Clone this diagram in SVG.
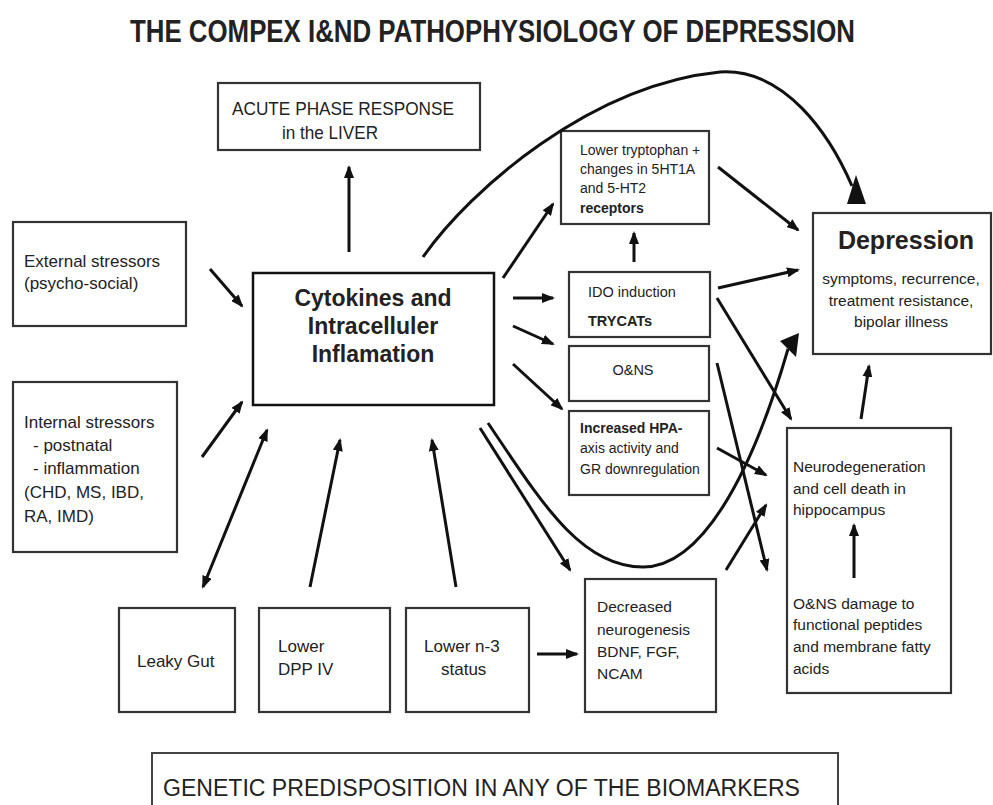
<svg xmlns="http://www.w3.org/2000/svg" width="993" height="805" viewBox="0 0 993 805">
  <defs>
    <marker id="head" markerUnits="userSpaceOnUse" markerWidth="13" markerHeight="10" refX="11" refY="5" orient="auto-start-reverse">
      <path d="M0,0 L13,5 L0,10 z" fill="#111"/>
    </marker>
    <style>
      .box { fill: #fff; stroke: #333; stroke-width: 2.2; }
      .t { font-family: "Liberation Sans", Arial, sans-serif; fill: #222; }
      .b { font-weight: bold; }
      .arrow { fill: none; stroke: #111; stroke-width: 3; marker-end: url(#head); }
      .curve { fill: none; stroke: #111; stroke-width: 3; }
    </style>
  </defs>
  <rect width="993" height="805" fill="#fff"/>

  <text class="t b" x="130" y="42" font-size="31" textLength="725" lengthAdjust="spacingAndGlyphs" fill="#111">THE COMPEX I&amp;ND PATHOPHYSIOLOGY OF DEPRESSION</text>

  <g id="acute">
    <rect class="box" x="218" y="83" width="262" height="67"/>
    <text class="t" x="232" y="115" font-size="19" textLength="222" lengthAdjust="spacingAndGlyphs">ACUTE PHASE RESPONSE</text>
    <text class="t" x="282" y="139" font-size="19" textLength="96" lengthAdjust="spacingAndGlyphs">in the LIVER</text>
  </g>

  <g id="external">
    <rect class="box" x="13" y="222" width="173" height="104"/>
    <text class="t" x="24" y="267" font-size="17">External stressors</text>
    <text class="t" x="24" y="289" font-size="17">(psycho-social)</text>
  </g>

  <g id="internal">
    <rect class="box" x="13" y="382" width="164" height="170"/>
    <text class="t" x="24" y="428" font-size="17">Internal stressors</text>
    <text class="t" x="33" y="451" font-size="17">- postnatal</text>
    <text class="t" x="33" y="474" font-size="17">- inflammation</text>
    <text class="t" x="24" y="498" font-size="17">(CHD, MS, IBD,</text>
    <text class="t" x="24" y="522" font-size="17">RA, IMD)</text>
  </g>

  <g id="cytokines">
    <rect x="253" y="273" width="241" height="132" fill="#fff" stroke="#111" stroke-width="2.5"/>
    <text class="t b" x="373" y="306" font-size="23" text-anchor="middle" fill="#111">Cytokines and</text>
    <text class="t b" x="373" y="334" font-size="23" text-anchor="middle" fill="#111">Intracelluler</text>
    <text class="t b" x="373" y="362" font-size="23" text-anchor="middle" fill="#111">Inflamation</text>
  </g>

  <g id="tryptophan">
    <rect class="box" x="561" y="131" width="148" height="93"/>
    <text class="t" x="580" y="155" font-size="14">Lower tryptophan +</text>
    <text class="t" x="580" y="174" font-size="14">changes in 5HT1A</text>
    <text class="t" x="580" y="193" font-size="14">and 5-HT2</text>
    <text class="t b" x="580" y="213" font-size="14">receptors</text>
  </g>

  <g id="ido">
    <rect class="box" x="569" y="272" width="141" height="65"/>
    <text class="t" x="588" y="297" font-size="14.5">IDO induction</text>
    <text class="t b" x="588" y="326" font-size="14.5">TRYCATs</text>
  </g>

  <g id="onsbox">
    <rect class="box" x="569" y="346" width="140" height="55"/>
    <text class="t" x="633" y="375" font-size="14.5" text-anchor="middle">O&amp;NS</text>
  </g>

  <g id="hpa">
    <rect class="box" x="569" y="411" width="140" height="84"/>
    <text class="t b" x="580" y="433" font-size="14">Increased HPA-</text>
    <text class="t" x="580" y="453" font-size="14">axis activity and</text>
    <text class="t" x="580" y="474" font-size="14">GR downregulation</text>
  </g>

  <g id="depression">
    <rect class="box" x="813" y="213" width="178" height="141"/>
    <text class="t b" x="906" y="249" font-size="25" text-anchor="middle" fill="#111">Depression</text>
    <text class="t" x="901" y="284" font-size="15.5" text-anchor="middle">symptoms, recurrence,</text>
    <text class="t" x="901" y="306" font-size="15.5" text-anchor="middle">treatment resistance,</text>
    <text class="t" x="901" y="327" font-size="15.5" text-anchor="middle">bipolar illness</text>
  </g>

  <g id="neuro">
    <rect class="box" x="787" y="428" width="164" height="265"/>
    <text class="t" x="793" y="472" font-size="15.5">Neurodegeneration</text>
    <text class="t" x="793" y="494" font-size="15.5">and cell death in</text>
    <text class="t" x="793" y="515" font-size="15.5">hippocampus</text>
    <text class="t" x="793" y="609" font-size="15.5">O&amp;NS damage to</text>
    <text class="t" x="793" y="630" font-size="15.5">functional peptides</text>
    <text class="t" x="793" y="652" font-size="15.5">and membrane fatty</text>
    <text class="t" x="793" y="674" font-size="15.5">acids</text>
  </g>

  <g id="decreased">
    <rect class="box" x="585" y="579" width="131" height="133"/>
    <text class="t" x="597" y="612" font-size="15.5">Decreased</text>
    <text class="t" x="597" y="635" font-size="15.5">neurogenesis</text>
    <text class="t" x="597" y="657" font-size="15.5">BDNF, FGF,</text>
    <text class="t" x="597" y="679" font-size="15.5">NCAM</text>
  </g>

  <g id="leaky">
    <rect class="box" x="119" y="608" width="116" height="104"/>
    <text class="t" x="137" y="667" font-size="17">Leaky Gut</text>
  </g>

  <g id="dpp">
    <rect class="box" x="259" y="608" width="131" height="104"/>
    <text class="t" x="278" y="652" font-size="17">Lower</text>
    <text class="t" x="278" y="675" font-size="17">DPP IV</text>
  </g>

  <g id="n3">
    <rect class="box" x="406" y="608" width="123" height="104"/>
    <text class="t" x="424" y="652" font-size="17">Lower n-3</text>
    <text class="t" x="441" y="675" font-size="17">status</text>
  </g>

  <g id="genetic">
    <path d="M152,815 L152,753 L838,753 L838,815" fill="#fff" stroke="#444" stroke-width="2"/>
    <text class="t" x="163" y="796" font-size="23" textLength="637" lengthAdjust="spacingAndGlyphs">GENETIC PREDISPOSITION IN ANY OF THE BIOMARKERS</text>
  </g>

  <g id="connectors">
    <line class="arrow" x1="349" y1="252" x2="349" y2="167"/>
    <line class="arrow" x1="210" y1="269" x2="242" y2="306"/>
    <line class="arrow" x1="202" y1="457" x2="242" y2="402"/>
    <line class="arrow" x1="203" y1="587" x2="267" y2="430" style="marker-start:url(#head)"/>
    <line class="arrow" x1="310" y1="587" x2="340" y2="440"/>
    <line class="arrow" x1="456" y1="587" x2="432" y2="440"/>
    <line class="arrow" x1="537" y1="654" x2="577" y2="654"/>

    <line class="arrow" x1="503" y1="278" x2="553" y2="204"/>
    <line class="arrow" x1="513" y1="298" x2="553" y2="298"/>
    <line class="arrow" x1="513" y1="326" x2="553" y2="344"/>
    <line class="arrow" x1="513" y1="364" x2="562" y2="409"/>
    <line class="arrow" x1="634" y1="262" x2="634" y2="233"/>

    <line class="arrow" x1="718" y1="167" x2="798" y2="230"/>
    <line class="arrow" x1="718" y1="288" x2="798" y2="270"/>
    <line class="arrow" x1="717" y1="298" x2="791" y2="419"/>
    <line class="arrow" x1="717" y1="363" x2="767" y2="570"/>
    <line class="arrow" x1="717" y1="448" x2="766" y2="475"/>
    <line class="arrow" x1="726" y1="570" x2="766" y2="505"/>
    <line class="arrow" x1="861" y1="419" x2="869" y2="366"/>
    <line class="arrow" x1="854" y1="578" x2="854" y2="525"/>

    <line class="arrow" x1="480" y1="428" x2="570" y2="570"/>

    <!-- long sweep over the top into Depression -->
    <path class="curve" d="M423,257 C470,190 590,85 720,72 C785,68 830,135 852,186"/>
    <polygon points="856,175 847,204 866,204" fill="#111"/>

    <!-- U-shaped sweep under the HPA box up to Depression -->
    <path class="curve" d="M488,423 C540,500 580,567 643,567 C700,567 750,480 788,349"/>
    <polygon points="799,333 780,341 796,357" fill="#111"/>
  </g>
</svg>
